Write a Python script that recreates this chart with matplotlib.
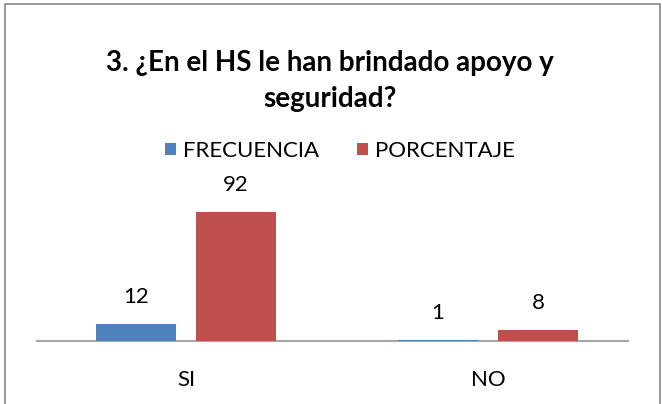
import numpy as np
import matplotlib.pyplot as plt
from matplotlib.patches import Rectangle

categorias = ['SI', 'NO']
frecuencia = [12, 1]
porcentaje = [92, 8]
titulo = '3. ¿En el HS le han brindado apoyo y\nseguridad?'

plt.rcParams['font.family'] = ['Lato', 'DejaVu Sans']

fig = plt.figure(figsize=(6.62, 4.04), dpi=100)
fig.patches.append(Rectangle((5 / 662, -0.01), 655 / 662, 1 - 4 / 404 + 0.01,
                             transform=fig.transFigure, fill=False,
                             edgecolor='#878787', linewidth=1.2))

ax = fig.add_axes([37 / 662, 63 / 404, 591 / 662, 140 / 404])
x = np.arange(len(categorias))
ancho = 0.265
off = 0.166
b1 = ax.bar(x - off, frecuencia, ancho, color='#4F81BD', label='FRECUENCIA', zorder=3)
b2 = ax.bar(x + off, porcentaje, ancho, color='#C0504D', label='PORCENTAJE', zorder=3)

for barras in (b1, b2):
    for r in barras:
        ax.annotate(f'{int(r.get_height())}', (r.get_x() + r.get_width() / 2, r.get_height()),
                    xytext=(0, 19.5), textcoords='offset points', ha='center', va='center',
                    fontsize=16)

ax.set_xlim(-0.493, 1.464)
ax.set_ylim(0, 100)
ax.set_xticks(x)
ax.set_xticklabels(categorias, fontsize=16)
ax.tick_params(axis='x', length=0, pad=21)
ax.set_yticks([])
for s in ['top', 'left', 'right']:
    ax.spines[s].set_visible(False)
ax.spines['bottom'].set_color('#A6A6A6')
ax.spines['bottom'].set_linewidth(1.5)

fig.text(330 / 662, 1 - 81 / 404, titulo, ha='center', va='center',
         fontsize=20, fontweight='bold', linespacing=1.5)

fig.legend(handles=[b1, b2], loc='center', bbox_to_anchor=(340 / 662, 1 - 151 / 404),
           ncol=2, frameon=False, fontsize=16, handlelength=0.5, handleheight=0.5,
           handletextpad=0.3, columnspacing=1.7)

fig.savefig('out.png', dpi=100)
